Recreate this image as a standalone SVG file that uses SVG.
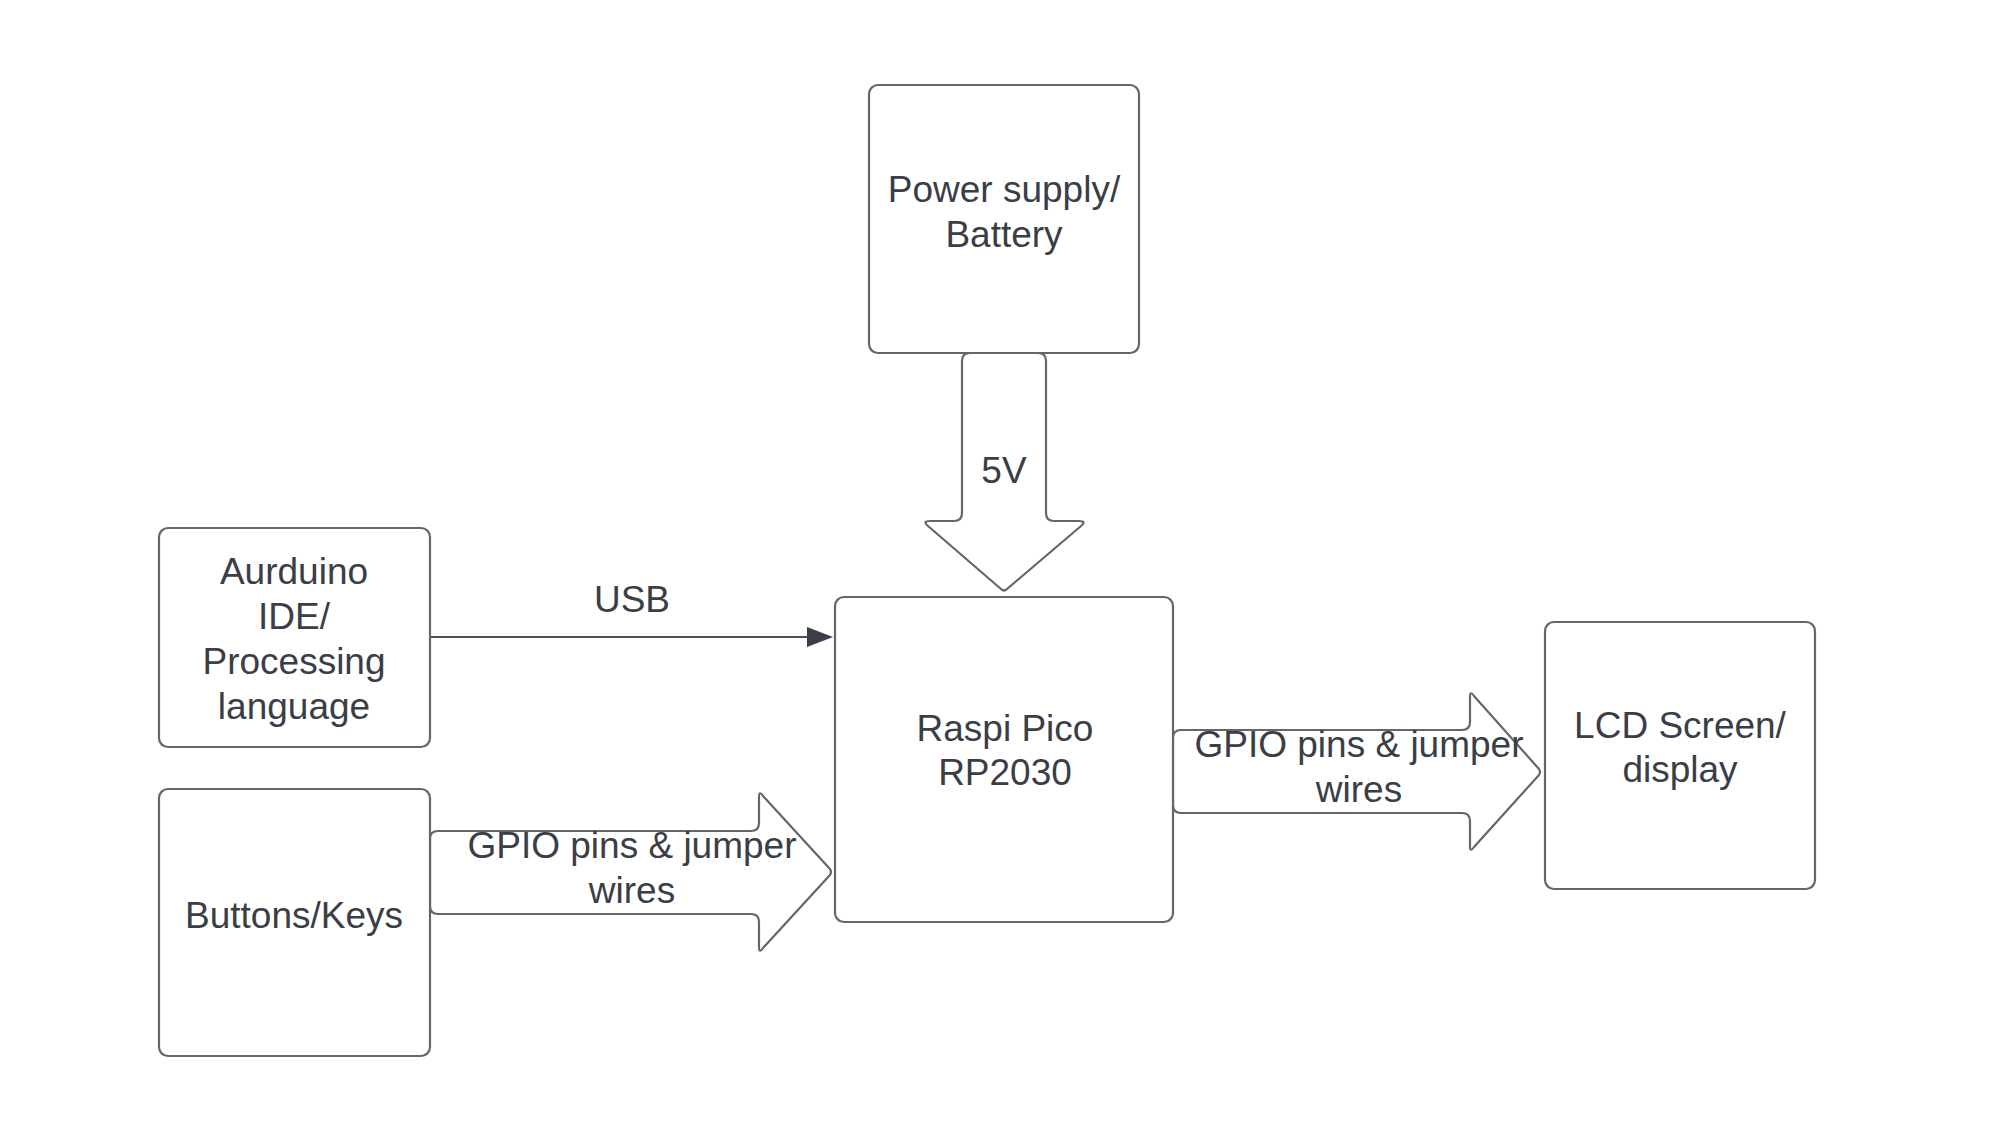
<svg xmlns="http://www.w3.org/2000/svg" width="2003" height="1145" viewBox="0 0 2003 1145">
<style>
.box{fill:#ffffff;stroke:#63666c;stroke-width:2.2}
.blk{fill:#ffffff;stroke:#63666c;stroke-width:2.2;stroke-linejoin:round}
.ln{fill:none;stroke:#4a4e56;stroke-width:2.2}
.t{font-family:"Liberation Sans",Arial,sans-serif;font-size:37px;fill:#3a3e46;text-anchor:middle}
</style>
<rect width="2003" height="1145" fill="#ffffff"/>
<g id="connectors">
<g id="usb">
<line class="ln" x1="430" y1="637" x2="810" y2="637"/>
<polygon points="807,627 833,637 807,647" fill="#3a3e46"/>
<text class="t" x="632" y="612">USB</text>
</g>
<g id="power-arrow">
<path class="blk" d="M962 361 Q962 353 970 353 H1038 Q1046 353 1046 361 V513 Q1046 521 1054 521 H1079 Q1087 521 1081 526 L1007 589 Q1004 592 1001 589 L928 526 Q922 521 930 521 H954 Q962 521 962 513 Z"/>
<text class="t" x="1004" y="483">5V</text>
</g>
<g id="buttons-arrow">
<path class="blk" d="M438 831 H751 Q759 831 759 823 V797 Q759 790 763 796 L830 869 Q832 872 830 875 L763 948 Q759 954 759 947 V922 Q759 914 751 914 H438 Q430 914 430 906 V839 Q430 831 438 831 Z"/>
<text class="t" x="632" y="858">GPIO pins &amp; jumper</text>
<text class="t" x="632" y="903">wires</text>
</g>
<g id="lcd-arrow">
<path class="blk" d="M1181 730 H1462 Q1470 730 1470 722 V697 Q1470 690 1474 696 L1539 769 Q1541 772 1539 775 L1474 847 Q1470 853 1470 846 V821 Q1470 813 1462 813 H1181 Q1173 813 1173 805 V738 Q1173 730 1181 730 Z"/>
<text class="t" x="1359" y="757">GPIO pins &amp; jumper</text>
<text class="t" x="1359" y="802">wires</text>
</g>
</g>
<g id="power">
<rect class="box" x="869" y="85" width="270" height="268" rx="9"/>
<text class="t" x="1004" y="202">Power supply/</text>
<text class="t" x="1004" y="247">Battery</text>
</g>
<g id="ide">
<rect class="box" x="159" y="528" width="271" height="219" rx="9"/>
<text class="t" x="294" y="584">Aurduino</text>
<text class="t" x="294" y="629">IDE/</text>
<text class="t" x="294" y="674">Processing</text>
<text class="t" x="294" y="719">language</text>
</g>
<g id="buttons">
<rect class="box" x="159" y="789" width="271" height="267" rx="9"/>
<text class="t" x="294" y="928">Buttons/Keys</text>
</g>
<g id="pico">
<rect class="box" x="835" y="597" width="338" height="325" rx="9"/>
<text class="t" x="1005" y="741">Raspi Pico</text>
<text class="t" x="1005" y="785">RP2030</text>
</g>
<g id="lcd">
<rect class="box" x="1545" y="622" width="270" height="267" rx="9"/>
<text class="t" x="1680" y="738">LCD Screen/</text>
<text class="t" x="1680" y="782">display</text>
</g>
</svg>
